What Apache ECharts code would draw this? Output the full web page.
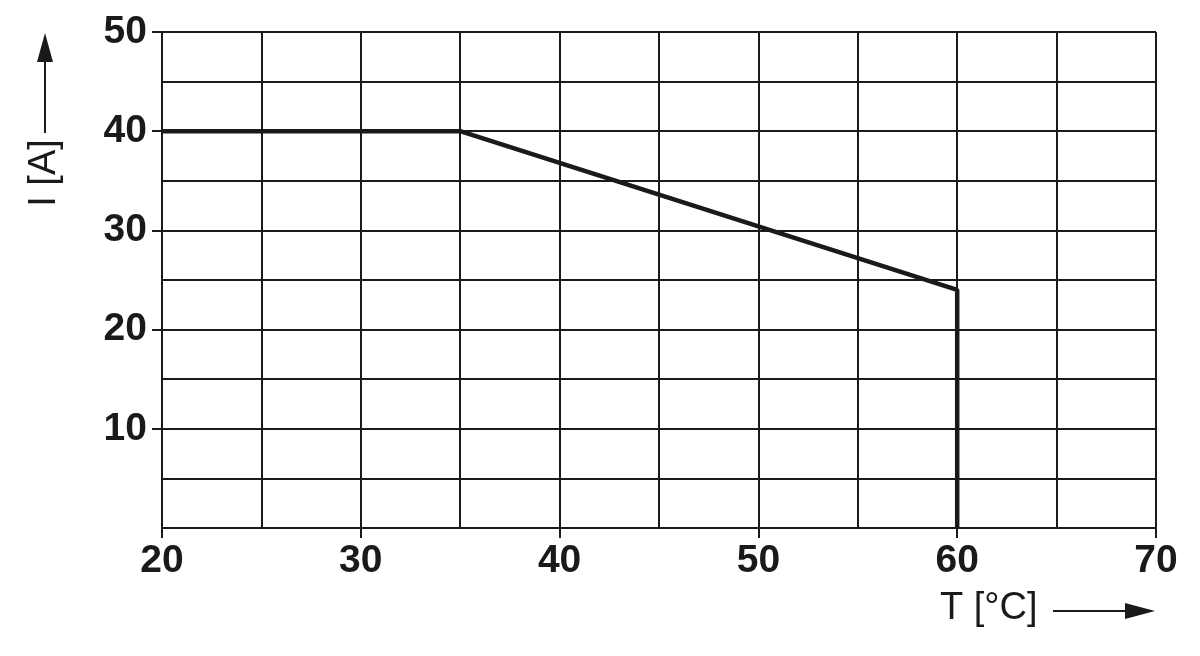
<!DOCTYPE html>
<html>
<head>
<meta charset="utf-8">
<script src="https://cdn.jsdelivr.net/npm/echarts@6/dist/echarts.min.js"></script>
<style>
html,body{margin:0;padding:0;background:#fff;}
#c{width:1200px;height:656px;}
</style>
</head>
<body>
<div id="c"></div>
<script>
// Data
var temperature = [20, 35, 60, 60];
var current = [40, 40, 24, 0];
var yTickValues = [10, 20, 30, 40, 50];
var xTitle = 'T [°C]';
var yTitle = 'I [A]';

var pts = temperature.map(function (t, i) { return [t, current[i]]; });
var chart = echarts.init(document.getElementById('c'));
var ink = '#1a1a1a';
var labelFont = { color: ink, fontFamily: 'Liberation Sans, Arial, sans-serif', fontWeight: 'bold', fontSize: 39 };

chart.setOption({
  animation: false,
  backgroundColor: '#fff',
  grid: { left: 162, right: 44, top: 32, bottom: 128, containLabel: false },
  xAxis: {
    type: 'value', min: 20, max: 70, interval: 10,
    axisLine: { show: true, lineStyle: { color: ink, width: 2 } },
    axisTick: { show: true, length: 10, lineStyle: { color: ink, width: 2 } },
    axisLabel: Object.assign({ margin: 14 }, labelFont),
    splitLine: { show: true, lineStyle: { color: ink, width: 2 } },
    minorTick: { show: false, splitNumber: 2 },
    minorSplitLine: { show: true, lineStyle: { color: ink, width: 2 } }
  },
  yAxis: {
    type: 'value', min: 0, max: 50, interval: 10,
    axisLine: { show: true, lineStyle: { color: ink, width: 2 } },
    axisTick: { show: true, length: 10, customValues: yTickValues, lineStyle: { color: ink, width: 2 } },
    axisLabel: Object.assign({ margin: 15, customValues: yTickValues }, labelFont),
    splitLine: { show: true, lineStyle: { color: ink, width: 2 } },
    minorTick: { show: false, splitNumber: 2 },
    minorSplitLine: { show: true, lineStyle: { color: ink, width: 2 } }
  },
  series: [{
    type: 'line', data: pts, symbol: 'none',
    lineStyle: { color: ink, width: 4.5 },
    z: 5
  }],
  graphic: [
    { type: 'text', left: 940, top: 590,
      style: { text: xTitle, fill: ink, font: '38px "Liberation Sans", Arial, sans-serif' } },
    { type: 'line', shape: { x1: 1053, y1: 611, x2: 1127, y2: 611 }, style: { stroke: ink, lineWidth: 2 } },
    { type: 'polygon', shape: { points: [[1125, 603], [1155, 611], [1125, 619]] }, style: { fill: ink } },
    { type: 'text', x: 45, y: 173, rotation: Math.PI / 2,
      style: { text: yTitle, fill: ink, font: '38px "Liberation Sans", Arial, sans-serif', align: 'center', verticalAlign: 'middle' } },
    { type: 'line', shape: { x1: 45, y1: 133, x2: 45, y2: 60 }, style: { stroke: ink, lineWidth: 2 } },
    { type: 'polygon', shape: { points: [[37, 62], [45, 33], [53, 62]] }, style: { fill: ink } }
  ]
});
</script>
</body>
</html>
